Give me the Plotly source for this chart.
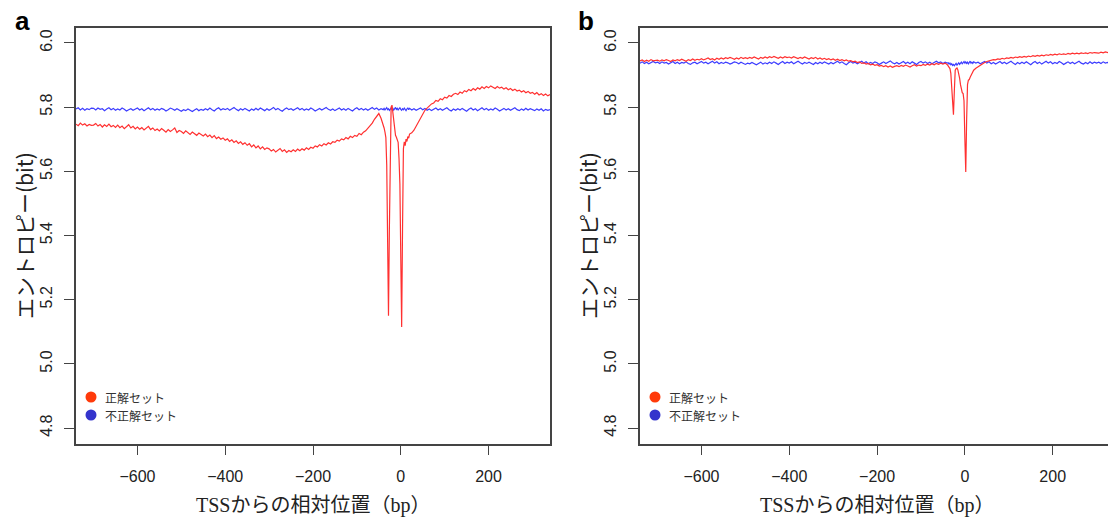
import plotly.graph_objects as go

# ---------------- data ----------------
series_names = ["正解セット", "不正解セット"]
x_ticks = [-600, -400, -200, 0, 200]
x_tick_labels = ["\u2212600", "\u2212400", "\u2212200", "0", "200"]
y_ticks = [4.8, 5.0, 5.2, 5.4, 5.6, 5.8, 6.0]
y_tick_labels = ["4.8", "5.0", "5.2", "5.4", "5.6", "5.8", "6.0"]

# positions relative to TSS (bp)
pos = list(range(-740, -39, 5)) + list(range(-38, 21, 2)) + list(range(25, 341, 5))

# panel a, correct set (red)
a_correct = [
    5.747, 5.742, 5.750, 5.744, 5.748, 5.741, 5.746, 5.743,
    5.744, 5.749, 5.741, 5.746, 5.738, 5.745, 5.740, 5.747, 5.739, 5.743,
    5.737, 5.744, 5.736, 5.741, 5.733, 5.739, 5.745, 5.735, 5.740, 5.732,
    5.738, 5.731, 5.736, 5.729, 5.734, 5.740, 5.730, 5.735, 5.727, 5.732,
    5.726, 5.733, 5.728, 5.722, 5.730, 5.724, 5.729, 5.735, 5.721, 5.727,
    5.724, 5.718, 5.726, 5.720, 5.715, 5.722, 5.716, 5.712, 5.719, 5.714,
    5.710, 5.716, 5.708, 5.713, 5.705, 5.711, 5.702, 5.707, 5.700, 5.704,
    5.697, 5.701, 5.693, 5.698, 5.690, 5.695, 5.687, 5.692, 5.684, 5.689,
    5.681, 5.686, 5.676, 5.682, 5.673, 5.679, 5.670, 5.676, 5.668, 5.673,
    5.670, 5.663, 5.668, 5.660, 5.666, 5.671, 5.662, 5.667, 5.659, 5.665,
    5.661, 5.667, 5.662, 5.669, 5.664, 5.670, 5.666, 5.673, 5.668, 5.675,
    5.672, 5.679, 5.676, 5.683, 5.679, 5.686, 5.682, 5.689, 5.685, 5.692,
    5.690, 5.697, 5.694, 5.701, 5.698, 5.705, 5.701, 5.709, 5.705, 5.712,
    5.709, 5.718, 5.714, 5.722, 5.726, 5.733, 5.741, 5.750, 5.762, 5.772,
    5.780, 5.765, 5.748,
    5.735, 5.722, 5.705, 5.620, 5.400, 5.150, 5.420, 5.720, 5.800, 5.806,
    5.780, 5.745, 5.722, 5.712, 5.706, 5.700, 5.690, 5.640, 5.560, 5.330,
    5.115, 5.420, 5.670, 5.692, 5.680, 5.700, 5.693, 5.708, 5.703, 5.716,
    5.720, 5.728, 5.741, 5.752, 5.768, 5.779, 5.790, 5.797, 5.804, 5.810,
    5.813, 5.821, 5.818, 5.826, 5.823, 5.831, 5.828, 5.836, 5.833, 5.840,
    5.843, 5.839, 5.847, 5.843, 5.851, 5.848, 5.855, 5.851, 5.858, 5.853,
    5.860, 5.856, 5.863, 5.858, 5.864, 5.860, 5.866, 5.861, 5.858, 5.864,
    5.859, 5.862, 5.856, 5.860, 5.854, 5.858, 5.852, 5.856, 5.850, 5.853,
    5.847, 5.851, 5.845, 5.849, 5.843, 5.846,
    5.840, 5.845, 5.838, 5.842, 5.836, 5.841, 5.835, 5.839,
]

# panel a, incorrect set (blue)
a_incorrect = [
    5.794, 5.798, 5.791, 5.796, 5.790, 5.795, 5.792, 5.797,
    5.796, 5.791, 5.797, 5.793, 5.795, 5.789, 5.794, 5.798, 5.792, 5.796,
    5.790, 5.794, 5.791, 5.797, 5.793, 5.788, 5.792, 5.795, 5.790, 5.794,
    5.797, 5.791, 5.795, 5.789, 5.793, 5.798, 5.792, 5.796, 5.790, 5.794,
    5.791, 5.796, 5.793, 5.788, 5.792, 5.797, 5.794, 5.790, 5.795, 5.791,
    5.787, 5.792, 5.789, 5.794, 5.790, 5.786, 5.791, 5.795, 5.789, 5.793,
    5.790, 5.795, 5.791, 5.797, 5.792, 5.788, 5.794, 5.798, 5.791, 5.795,
    5.792, 5.796, 5.790, 5.794, 5.799, 5.793, 5.789, 5.795, 5.791, 5.796,
    5.792, 5.788, 5.794, 5.790, 5.796, 5.791, 5.797, 5.793, 5.789, 5.795,
    5.790, 5.794, 5.799, 5.792, 5.796, 5.791, 5.787, 5.793, 5.797, 5.792,
    5.795, 5.790, 5.794, 5.798, 5.792, 5.796, 5.790, 5.794, 5.791, 5.797,
    5.793, 5.788, 5.792, 5.796, 5.791, 5.795, 5.799, 5.793, 5.790, 5.794,
    5.789, 5.793, 5.797, 5.791, 5.795, 5.790, 5.796, 5.792, 5.788, 5.794,
    5.798, 5.792, 5.796, 5.791, 5.795, 5.790, 5.794, 5.799, 5.793, 5.797,
    5.791, 5.795, 5.792,
    5.796, 5.791, 5.794, 5.798, 5.792, 5.795, 5.790, 5.794, 5.797, 5.792,
    5.796, 5.791, 5.795, 5.799, 5.793, 5.796, 5.791, 5.794, 5.798, 5.793,
    5.790, 5.795, 5.792, 5.797, 5.793, 5.789, 5.794, 5.798, 5.792, 5.796,
    5.791, 5.795, 5.790, 5.794, 5.797, 5.792, 5.796, 5.790, 5.794, 5.789,
    5.793, 5.797, 5.791, 5.795, 5.790, 5.794, 5.798, 5.792, 5.788, 5.794,
    5.790, 5.795, 5.791, 5.796, 5.792, 5.787, 5.793, 5.797, 5.791, 5.795,
    5.789, 5.794, 5.798, 5.792, 5.796, 5.790, 5.794, 5.791, 5.797, 5.793,
    5.788, 5.792, 5.796, 5.791, 5.795, 5.790, 5.794, 5.798, 5.792, 5.789,
    5.794, 5.790, 5.796, 5.791, 5.795, 5.792,
    5.789, 5.794, 5.790, 5.795, 5.788, 5.793, 5.790, 5.792,
]

# panel b, correct set (red)
b_correct = [
    5.944, 5.947, 5.942, 5.946, 5.943, 5.948, 5.944, 5.945,
    5.946, 5.943, 5.947, 5.944, 5.948, 5.945, 5.942, 5.947, 5.944, 5.948,
    5.945, 5.949, 5.946, 5.943, 5.948, 5.945, 5.950, 5.946, 5.949, 5.947,
    5.951, 5.947, 5.950, 5.953, 5.948, 5.951, 5.947, 5.952, 5.949, 5.953,
    5.950, 5.954, 5.951, 5.955, 5.952, 5.949, 5.953, 5.950, 5.955, 5.951,
    5.954, 5.951, 5.955, 5.952, 5.956, 5.953, 5.950, 5.955, 5.952, 5.956,
    5.953, 5.957, 5.954, 5.958, 5.955, 5.952, 5.956, 5.953, 5.957, 5.954,
    5.956, 5.953, 5.957, 5.954, 5.951, 5.955, 5.952, 5.956, 5.953, 5.950,
    5.954, 5.951, 5.955, 5.950, 5.953, 5.949, 5.952, 5.948, 5.951, 5.947,
    5.950, 5.946, 5.949, 5.945, 5.948, 5.944, 5.947, 5.943, 5.945, 5.941,
    5.943, 5.939, 5.941, 5.936, 5.938, 5.934, 5.936, 5.932, 5.934, 5.930,
    5.932, 5.928, 5.930, 5.926, 5.929, 5.925, 5.928, 5.924, 5.927, 5.929,
    5.926, 5.930, 5.927, 5.931, 5.928, 5.925, 5.929, 5.932, 5.928, 5.931,
    5.929, 5.933, 5.930, 5.934, 5.931, 5.935, 5.932, 5.936, 5.933, 5.937,
    5.934, 5.937, 5.932,
    5.928, 5.925, 5.920, 5.905, 5.860, 5.800, 5.776, 5.850, 5.915, 5.920,
    5.922, 5.916, 5.905, 5.890, 5.870, 5.855, 5.845, 5.842, 5.820, 5.700,
    5.598, 5.760, 5.870, 5.884, 5.886, 5.893, 5.898, 5.905, 5.910, 5.915,
    5.921, 5.926, 5.931, 5.935, 5.939, 5.942, 5.944, 5.946, 5.948, 5.947,
    5.950, 5.949, 5.952, 5.950, 5.953, 5.952, 5.955, 5.953, 5.956, 5.954,
    5.957, 5.955, 5.958, 5.956, 5.959, 5.957, 5.960, 5.958, 5.961, 5.959,
    5.962, 5.960, 5.963, 5.961, 5.964, 5.962, 5.965, 5.963, 5.966, 5.964,
    5.966, 5.964, 5.967, 5.965, 5.968, 5.966, 5.968, 5.966, 5.969, 5.967,
    5.969, 5.967, 5.970, 5.968, 5.970, 5.969,
    5.968, 5.971, 5.969, 5.972, 5.970, 5.968, 5.971, 5.970,
]

# panel b, incorrect set (blue)
b_incorrect = [
    5.937, 5.941, 5.936, 5.940, 5.935, 5.939, 5.942, 5.938,
    5.940, 5.936, 5.941, 5.937, 5.939, 5.934, 5.938, 5.942, 5.936, 5.940,
    5.935, 5.939, 5.937, 5.941, 5.936, 5.933, 5.938, 5.940, 5.935, 5.939,
    5.942, 5.937, 5.940, 5.935, 5.938, 5.943, 5.937, 5.941, 5.935, 5.939,
    5.936, 5.940, 5.938, 5.934, 5.937, 5.941, 5.939, 5.935, 5.940, 5.936,
    5.933, 5.937, 5.935, 5.939, 5.936, 5.932, 5.936, 5.940, 5.934, 5.938,
    5.935, 5.940, 5.936, 5.941, 5.937, 5.933, 5.938, 5.942, 5.936, 5.940,
    5.937, 5.941, 5.935, 5.939, 5.943, 5.938, 5.934, 5.939, 5.936, 5.940,
    5.937, 5.933, 5.939, 5.935, 5.940, 5.936, 5.941, 5.938, 5.934, 5.939,
    5.935, 5.939, 5.943, 5.937, 5.941, 5.936, 5.932, 5.938, 5.942, 5.937,
    5.940, 5.935, 5.939, 5.943, 5.937, 5.941, 5.935, 5.939, 5.936, 5.941,
    5.938, 5.933, 5.937, 5.941, 5.936, 5.940, 5.944, 5.938, 5.935, 5.939,
    5.934, 5.938, 5.942, 5.936, 5.940, 5.935, 5.941, 5.937, 5.933, 5.939,
    5.942, 5.937, 5.941, 5.936, 5.940, 5.935, 5.939, 5.943, 5.938, 5.941,
    5.936, 5.940, 5.937,
    5.938, 5.934, 5.937, 5.932, 5.935, 5.930, 5.933, 5.929, 5.932, 5.936,
    5.931, 5.934, 5.938, 5.933, 5.936, 5.940, 5.935, 5.938, 5.942, 5.937,
    5.941, 5.936, 5.940, 5.935, 5.939, 5.943, 5.937, 5.940, 5.936, 5.941,
    5.937, 5.940, 5.935, 5.939, 5.942, 5.937, 5.941, 5.935, 5.939, 5.934,
    5.938, 5.942, 5.936, 5.940, 5.935, 5.939, 5.943, 5.937, 5.933, 5.939,
    5.935, 5.940, 5.936, 5.941, 5.937, 5.932, 5.938, 5.942, 5.936, 5.940,
    5.934, 5.939, 5.943, 5.937, 5.941, 5.935, 5.939, 5.936, 5.942, 5.938,
    5.933, 5.937, 5.941, 5.936, 5.940, 5.935, 5.939, 5.943, 5.937, 5.934,
    5.939, 5.935, 5.941, 5.936, 5.940, 5.937,
    5.940, 5.936, 5.941, 5.937, 5.939, 5.935, 5.940, 5.938,
]

panel_labels = ["a", "b"]
x_title = "TSSからの相対位置（bp）"
y_title = "エントロピー(bit)"

# ---------------- styling ----------------
W, H = 1108, 518
RED_LINE = "#ff3030"
BLUE_LINE = "#3d3dff"
RED_DOT = "#ff3a0a"
BLUE_DOT = "#3434cc"
AX_COLOR = "#444444"
TICK_FONT = dict(family="Liberation Sans, Arial, sans-serif", size=16, color="#222222")


def px_x(p):
    return p / W


def px_y(p):
    return 1 - p / H


fig = go.Figure()

panels = [
    dict(xa="x", ya="y", red=a_correct, blue=a_incorrect,
         dom=(76, 550), xr=[-740, 340], mirror_y=True),
    dict(xa="x2", ya="y2", red=b_correct, blue=b_incorrect,
         dom=(640, 1108), xr=[-740, 326], mirror_y=False),
]

for i, p in enumerate(panels):
    fig.add_trace(go.Scatter(x=pos, y=p["blue"], mode="lines", name=series_names[1],
                             line=dict(color=BLUE_LINE, width=1.2),
                             xaxis=p["xa"], yaxis=p["ya"], showlegend=False))
    fig.add_trace(go.Scatter(x=pos, y=p["red"], mode="lines", name=series_names[0],
                             line=dict(color=RED_LINE, width=1.2),
                             xaxis=p["xa"], yaxis=p["ya"], showlegend=False))

layout = dict(
    width=W, height=H,
    margin=dict(l=0, r=0, t=0, b=0),
    paper_bgcolor="white", plot_bgcolor="white",
    showlegend=False,
)

y_dom = [px_y(443.5), px_y(27.5)]
for i, p in enumerate(panels):
    sx = "" if i == 0 else "2"
    layout["xaxis" + sx] = dict(
        domain=[px_x(p["dom"][0]), px_x(p["dom"][1])], range=p["xr"],
        anchor="y" + sx, tickmode="array", tickvals=x_ticks, ticktext=x_tick_labels,
        ticks="outside", ticklen=10, tickwidth=1.3, tickcolor=AX_COLOR,
        showline=True, linecolor=AX_COLOR, linewidth=1.5, mirror=True,
        showgrid=False, zeroline=False, tickfont=TICK_FONT, automargin=False,
        ticklabelstandoff=8,
    )
    layout["yaxis" + sx] = dict(
        domain=y_dom, range=[4.752, 6.048],
        anchor="x" + sx, tickmode="array", tickvals=y_ticks, ticktext=y_tick_labels,
        ticks="outside", ticklen=10, tickwidth=1.3, tickcolor=AX_COLOR,
        showline=True, linecolor=AX_COLOR, linewidth=1.5, mirror=p["mirror_y"],
        showgrid=False, zeroline=False, tickfont=TICK_FONT, automargin=False,
        tickangle=-90, ticklabelstandoff=6,
    )

fig.update_layout(**layout)

# titles, panel letters, legends
title_font = dict(family="Liberation Serif, Noto Sans CJK JP, serif", size=20, color="#222222")
ytitle_font = dict(family="Noto Sans CJK JP, Liberation Sans, sans-serif", size=21, color="#222222")
legend_font = dict(family="Noto Sans CJK JP, sans-serif", size=12, color="#333333")

for i, p in enumerate(panels):
    left = p["dom"][0]
    cx = (76 + 550) / 2 if i == 0 else (640 + 1114) / 2
    fig.add_annotation(text=x_title, xref="paper", yref="paper",
                       x=px_x(cx), y=px_y(505), showarrow=False,
                       xanchor="center", yanchor="middle", font=title_font)
    fig.add_annotation(text=y_title, xref="paper", yref="paper",
                       x=px_x(left - 52), y=px_y(236), showarrow=False, textangle=-90,
                       xanchor="center", yanchor="middle", font=ytitle_font)
    fig.add_annotation(text="<b>%s</b>" % panel_labels[i], xref="paper", yref="paper",
                       x=px_x(left - 54), y=px_y(21), showarrow=False,
                       xanchor="center", yanchor="middle",
                       font=dict(family="Liberation Sans, Arial, sans-serif", size=26, color="#000000"))
    # legend: dot + label per series
    cxd = left + 15
    for j, col in enumerate([RED_DOT, BLUE_DOT]):
        cy = 397 + 18 * j
        fig.add_shape(type="circle", xref="paper", yref="paper",
                      xsizemode="pixel", ysizemode="pixel",
                      xanchor=px_x(cxd), yanchor=px_y(cy),
                      x0=-5.5, x1=5.5, y0=-5.5, y1=5.5,
                      fillcolor=col, line=dict(width=0))
        fig.add_annotation(text=series_names[j], xref="paper", yref="paper",
                           x=px_x(cxd + 13), y=px_y(cy), showarrow=False,
                           xanchor="left", yanchor="middle", font=legend_font,
                           borderpad=0)

fig.write_html("out.html")
